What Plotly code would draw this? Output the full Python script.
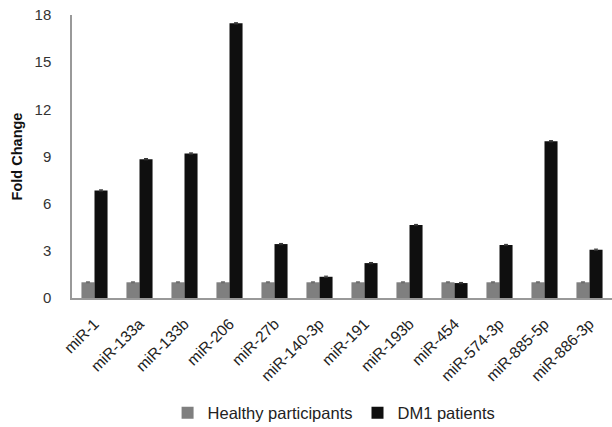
import plotly.graph_objects as go

# miRNA expression fold change: healthy participants vs DM1 patients
mirnas = ["miR-1", "miR-133a", "miR-133b", "miR-206", "miR-27b", "miR-140-3p",
          "miR-191", "miR-193b", "miR-454", "miR-574-3p", "miR-885-5p", "miR-886-3p"]
healthy = [1.0, 1.0, 1.0, 1.0, 1.0, 1.0, 1.0, 1.0, 1.0, 1.0, 1.0, 1.0]
healthy_err = [0.03] * 12
dm1 = [6.84, 8.83, 9.19, 17.47, 3.43, 1.35, 2.22, 4.64, 0.95, 3.37, 9.97, 3.07]
dm1_err = [0.04, 0.04, 0.04, 0.04, 0.04, 0.04, 0.04, 0.04, 0.04, 0.04, 0.04, 0.04]
y_ticks = [0, 3, 6, 9, 12, 15, 18]

fig = go.Figure()
fig.add_trace(go.Bar(
    name="Healthy participants", x=mirnas, y=healthy,
    marker=dict(color="#7f7f7f", line=dict(width=0)),
    error_y=dict(type="data", array=healthy_err, color="#666666", thickness=1, width=2),
))
fig.add_trace(go.Bar(
    name="DM1 patients", x=mirnas, y=dm1,
    marker=dict(color="#0f0f0f", line=dict(width=0)),
    error_y=dict(type="data", array=dm1_err, color="#333333", thickness=1, width=2),
))

fig.update_layout(
    width=612, height=427,
    margin=dict(l=72, r=0, t=15, b=129, autoexpand=False),
    paper_bgcolor="white", plot_bgcolor="white",
    barmode="group", bargap=0.42, bargroupgap=0,
    font=dict(family="Liberation Sans, Arial, sans-serif", color="#222222"),
    showlegend=True,
    legend=dict(orientation="h", x=0.177, xanchor="left", y=-0.345, yanchor="top",
                font=dict(size=16.5, color="#222222"), itemwidth=30,
                traceorder="normal"),
)
fig.update_xaxes(
    automargin=False,
    showline=True, linecolor="#999999", linewidth=1.5,
    tickangle=-45, tickfont=dict(size=15.5, color="#222222"),
    ticks="", showgrid=False, ticklabelstandoff=9,
)
fig.update_yaxes(
    automargin=False,
    range=[0, 18], tickvals=y_ticks, showline=True, linecolor="#999999", linewidth=1.5,
    showgrid=False, zeroline=False, ticks="", ticklabelstandoff=16,
    tickfont=dict(size=15, color="#333333"),
    title=dict(text="<b>Fold Change</b>", font=dict(size=14.5, color="#111111"), standoff=8),
)

fig.write_html("out.html")
